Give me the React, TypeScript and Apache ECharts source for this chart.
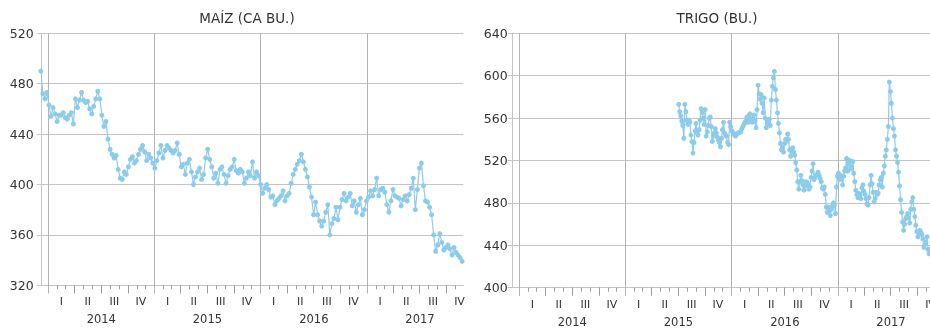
import { useEffect, useRef } from 'react';
import * as echarts from 'echarts';

// Weekly maize prices
const maizeStart: [number, number, number] = [2013, 11, 6]; // 6 Dec 2013
const maizeStepDays = 7;
const maizeValues = [
  490, 472, 468, 473, 463, 454, 461, 456, 450, 455,
  455, 457, 453, 452, 455, 457, 448, 468, 461, 467,
  473, 467, 465, 466, 460, 456, 462, 468, 474, 468,
  455, 446, 450, 436, 428, 424, 421, 423, 412, 405,
  404, 410, 408, 414, 420, 422, 417, 419, 424, 428,
  431, 426, 419, 424, 421, 417, 413, 419, 425, 431,
  421, 427, 431, 429, 427, 425, 427, 433, 424, 414,
  416, 408, 417, 420, 410, 400, 406, 410, 413, 404,
  408, 421, 428, 420, 414, 405, 409, 401, 412, 414,
  408, 401, 407, 412, 414, 420, 411, 409, 412, 410,
  401, 405, 410, 407, 418, 405, 410, 407, 400, 393,
  397, 400, 396, 390, 391, 384, 387, 389, 391, 395,
  387, 391, 393, 401, 408, 412, 416, 419, 424, 418,
  412, 406, 398, 390, 376, 386, 376, 371, 367, 371,
  378, 384, 360, 369, 373, 382, 372, 382, 388, 393,
  387, 390, 393, 383, 387, 378, 384, 389, 376, 380,
  387, 390, 395, 391, 396, 405, 391, 396, 397, 394,
  384, 378, 387, 396, 391, 390, 389, 383, 388, 391,
  387, 392, 397, 405, 380, 396, 413, 417, 399, 387,
  386, 382, 376, 360, 347, 352, 361, 354, 348, 350,
  352, 349, 344, 350, 346, 344, 342, 339,
];

// Twice-weekly wheat prices
const wheatStart: [number, number, number] = [2015, 6, 3]; // 3 Jul 2015
const wheatStepDays = 3.5;
const wheatValues = [
  573, 566, 562, 557, 553, 541, 573, 566, 558, 554,
  558, 556, 544, 538, 527, 537, 548, 555, 546, 544,
  549, 558, 569, 565, 560, 554, 568, 543, 547, 553,
  560, 561, 552, 538, 543, 546, 550, 546, 542, 539,
  537, 533, 541, 549, 556, 546, 544, 543, 537, 535,
  556, 552, 548, 547, 545, 544, 543, 545, 546, 546,
  547, 547, 550, 552, 554, 556, 557, 561, 556, 562,
  564, 558, 556, 560, 563, 557, 551, 568, 591, 583,
  578, 582, 574, 565, 579, 560, 551, 555, 558, 559,
  553, 577, 590, 598, 604, 587, 577, 565, 555, 546,
  536, 530, 532, 528, 536, 540, 538, 545, 540, 530,
  524, 530, 532, 528, 525, 518, 511, 500, 493, 500,
  506, 501, 497, 492, 496, 500, 499, 497, 493, 495,
  504, 510, 517, 502, 504, 506, 507, 509, 506, 503,
  500, 494, 493, 495, 488, 476, 471, 476, 473, 468,
  474, 477, 480, 478, 470, 495, 505, 508, 502, 506,
  503, 497, 505, 510, 513, 522, 510, 517, 520, 512,
  514, 519, 508, 500, 492, 488, 485, 489, 487, 484,
  494, 497, 491, 488, 484, 479, 478, 485, 497, 506,
  498, 490, 481, 484, 490, 488, 489, 497, 502, 504,
  495, 508, 515, 524, 530, 540, 552, 594, 585, 574,
  560, 550, 543, 530, 524, 518, 509, 496, 483, 471,
  462, 454, 460, 465, 467, 470, 466, 461, 474, 481,
  485, 474, 467, 459, 453, 448, 452, 454, 452, 450,
  446, 438, 441, 443, 448, 436, 432, 434, 437, 433,
  430,
];

const years = [2014, 2015, 2016, 2017];
const quarterNames = ['I', 'II', 'III', 'IV'];
const maizeTitle = 'MAÍZ (CA BU.)';
const wheatTitle = 'TRIGO (BU.)';
const maizeTicks = [320, 520, 40];
const wheatTicks = [400, 640, 40];

const X_MIN = new Date(2013, 11, 9).getTime();
const X_MAX = new Date(2017, 10, 28).getTime();
const DAY_MS = 86400000;

const FONT = '"DejaVu Sans", sans-serif';
const TEXT = '#333333';
const GRID_GRAY = '#c4c4c4';
const YEAR_GRAY = '#b4b4b4';
const TICK_GRAY = '#9c9c9c';
const DOT = '#8dcbeb';

function series(start: [number, number, number], stepDays: number, values: number[]) {
  const t0 = new Date(start[0], start[1], start[2]).getTime();
  return values.map((v, i) => [t0 + i * stepDays * DAY_MS, v]);
}

const monthTicks: number[] = [];
const quarterTicks: number[] = [];
const yearTicks: number[] = [];
const quarterLabelPos: number[] = [];
const yearLabelPos: number[] = [];
years.forEach((y) => {
  for (let m = 0; m < 12; m++) {
    const t = new Date(y, m, 1).getTime();
    if (t <= X_MAX) monthTicks.push(t);
    if (m % 3 === 0 && t <= X_MAX) quarterTicks.push(t);
  }
  yearTicks.push(new Date(y, 0, 1).getTime());
  quarterLabelPos.push(
    new Date(y, 1, 15).getTime(),
    new Date(y, 4, 16).getTime(),
    new Date(y, 7, 16).getTime(),
    new Date(y, 10, 15).getTime()
  );
  yearLabelPos.push(new Date(y, 6, 2).getTime());
});

const quarterFmt = (v: number) => quarterNames[Math.floor(new Date(v).getMonth() / 3)];
const yearFmt = (v: number) => String(new Date(v).getFullYear());

function xAxes(gridIndex: number) {
  const common = { type: 'value', gridIndex, min: X_MIN, max: X_MAX, position: 'bottom', offset: 0 };
  return [
    {
      ...common,
      axisLine: { show: true, onZero: false, lineStyle: { color: GRID_GRAY, width: 1 } },
      axisTick: { show: true, length: 4, customValues: monthTicks, lineStyle: { color: TICK_GRAY, width: 1 } },
      axisLabel: {
        show: true, customValues: quarterLabelPos, formatter: quarterFmt,
        margin: 11, fontSize: 11, color: TEXT, fontFamily: FONT,
      },
      splitLine: { show: false },
    },
    {
      ...common,
      axisLine: { show: false, onZero: false },
      axisTick: { show: true, length: 8, customValues: quarterTicks, lineStyle: { color: TICK_GRAY, width: 1 } },
      axisLabel: {
        show: true, customValues: yearLabelPos, formatter: yearFmt,
        margin: 28, fontSize: 11.5, color: TEXT, fontFamily: FONT,
      },
      splitLine: { show: false },
    },
    {
      ...common,
      axisLine: { show: false, onZero: false },
      axisTick: { show: true, length: 8, customValues: yearTicks, lineStyle: { color: YEAR_GRAY, width: 1 } },
      axisLabel: { show: false },
      splitLine: { show: true, lineStyle: { color: YEAR_GRAY, width: 1 } },
    },
  ];
}

function yAxis(gridIndex: number, t: number[], margin: number) {
  return {
    type: 'value', gridIndex, min: t[0], max: t[1], interval: t[2],
    axisLine: { show: true, lineStyle: { color: GRID_GRAY, width: 1 } },
    axisTick: { show: true, length: 5, lineStyle: { color: GRID_GRAY, width: 1 } },
    axisLabel: { margin, fontSize: 12.5, color: TEXT, fontFamily: FONT },
    splitLine: { show: true, lineStyle: { color: GRID_GRAY, width: 1 } },
  };
}

function lineSeries(name: string, xi: number, yi: number, data: number[][], clip: boolean) {
  return {
    name, type: 'line', xAxisIndex: xi, yAxisIndex: yi, data,
    symbol: 'circle', symbolSize: 5, showSymbol: true, showAllSymbol: true,
    clip,
    itemStyle: { color: DOT },
    lineStyle: { color: DOT, width: 1.2 },
    emphasis: { disabled: true },
  };
}

export default function App() {
  const ref = useRef<HTMLDivElement>(null);
  useEffect(() => {
    if (!ref.current) return;
    const chart = echarts.init(ref.current, undefined, { renderer: 'svg' });
    chart.setOption({
      animation: false,
      grid: [
        { left: 41.7, top: 33.3, width: 421.6, height: 252, containLabel: false, outerBoundsMode: 'none' },
        { left: 512.7, top: 33.3, width: 421.6, height: 254.4, containLabel: false, outerBoundsMode: 'none' },
      ],
      xAxis: [...xAxes(0), ...xAxes(1)],
      yAxis: [yAxis(0, maizeTicks, 8), yAxis(1, wheatTicks, 5)],
      graphic: [
        {
          type: 'text', x: 247, y: 18,
          style: {
            text: maizeTitle, fill: TEXT, font: `13.5px ${FONT}`,
            textAlign: 'center', textVerticalAlign: 'middle', align: 'center', verticalAlign: 'middle',
          },
        },
        {
          type: 'text', x: 717, y: 18,
          style: {
            text: wheatTitle, fill: TEXT, font: `13.5px ${FONT}`,
            textAlign: 'center', textVerticalAlign: 'middle', align: 'center', verticalAlign: 'middle',
          },
        },
      ],
      series: [
        lineSeries('Maíz', 0, 0, series(maizeStart, maizeStepDays, maizeValues), false),
        lineSeries('Trigo', 3, 1, series(wheatStart, wheatStepDays, wheatValues), true),
      ],
    });
    return () => chart.dispose();
  }, []);
  return <div ref={ref} style={{ position: 'fixed', left: 0, top: 0, width: 940, height: 329 }} />;
}
